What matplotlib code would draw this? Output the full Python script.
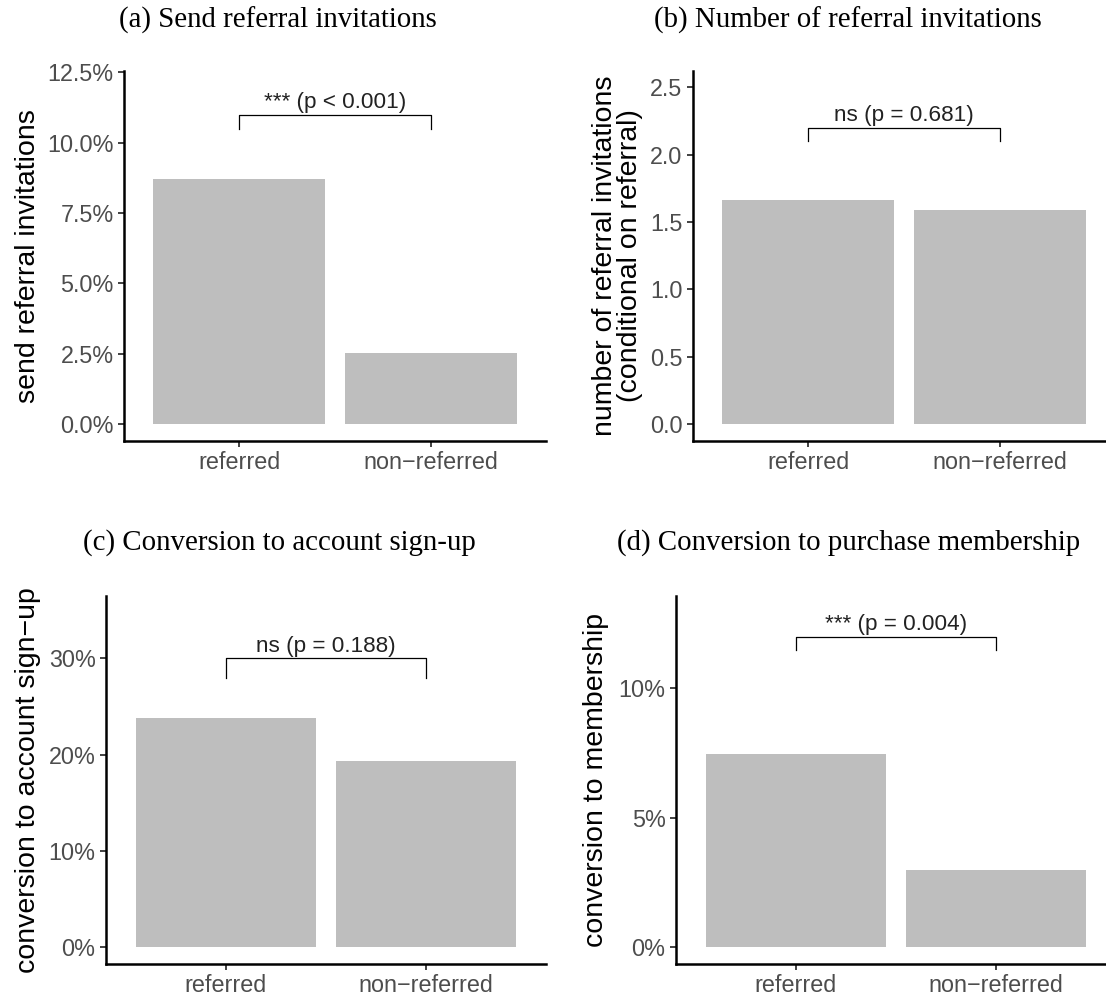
import matplotlib
matplotlib.use("Agg")
import matplotlib.pyplot as plt

# --- data ---
groups = ["referred", "non\u2212referred"]

send_rate = [8.70, 2.51]          # % sending referral invitations
invite_count = [1.665, 1.592]     # invitations, conditional on referral
signup_rate = [23.8, 19.3]        # % converting to account sign-up
member_rate = [7.48, 2.97]        # % converting to membership

titles = [
    "(a) Send referral invitations",
    "(b) Number of referral invitations",
    "(c) Conversion to account sign-up",
    "(d) Conversion to purchase membership",
]
ylabels = [
    "send referral invitations",
    "number of referral invitations\n(conditional on referral)",
    "conversion to account sign\u2212up",
    "conversion to membership",
]
sig_labels = ["*** (p < 0.001)", "ns (p = 0.681)", "ns (p = 0.188)", "*** (p = 0.004)"]
sig_y = [11.0, 2.2, 30.0, 12.0]
sig_drop = [0.5, 0.1, 2.0, 0.5]

yticks = [
    [0, 2.5, 5.0, 7.5, 10.0, 12.5],
    [0, 0.5, 1.0, 1.5, 2.0, 2.5],
    [0, 10, 20, 30],
    [0, 5, 10],
]
ytick_labels = [
    ["0.0%", "2.5%", "5.0%", "7.5%", "10.0%", "12.5%"],
    ["0.0", "0.5", "1.0", "1.5", "2.0", "2.5"],
    ["0%", "10%", "20%", "30%"],
    ["0%", "5%", "10%"],
]
ylims = [(-0.6, 12.55), (-0.125, 2.62), (-1.74, 36.48), (-0.65, 13.57)]
values = [send_rate, invite_count, signup_rate, member_rate]

W, H = 1106, 998
# panel rectangles in pixels: left, right, top, bottom
rects = [(124, 546, 71, 441), (693, 1115, 71, 441), (106, 546, 596, 964), (676, 1116, 596, 964)]
title_pos = [(278, 20), (848, 20), (279, 543), (849, 543)]
ylabel_x = [41, 643, 41, 609]   # right edge of the rotated label

BAR = "#BEBEBE"
TICK_TXT = "#4D4D4D"
SANS = "Liberation Sans"

fig = plt.figure(figsize=(W / 100, H / 100), dpi=100)

for i in range(4):
    l, r, t, b = rects[i]
    ax = fig.add_axes([l / W, 1 - b / H, (r - l) / W, (b - t) / H])
    x = [1, 2]
    ax.bar(x, values[i], width=0.9, color=BAR, zorder=2)
    ax.set_xlim(0.4, 2.6)
    ax.set_ylim(*ylims[i])
    ax.set_xticks(x)
    ax.set_xticklabels(groups, fontsize=16.8, color=TICK_TXT, family=SANS)
    ax.set_yticks(yticks[i])
    ax.set_yticklabels(ytick_labels[i], fontsize=16.8, color=TICK_TXT, family=SANS)
    for s in ["top", "right"]:
        ax.spines[s].set_visible(False)
    for s in ["left", "bottom"]:
        ax.spines[s].set_linewidth(1.8)
        ax.spines[s].set_color("black")
    ax.tick_params(axis="both", length=4.5, width=1.3, color="#333333", pad=3)

    # y label placed in pixels
    lx = (ylabel_x[i] - l) / (r - l)
    ax.set_ylabel(ylabels[i], fontsize=20.5, family=SANS, color="black", linespacing=0.95)
    ax.yaxis.set_label_coords(lx, 0.5)

    # significance bracket
    y0, d = sig_y[i], sig_drop[i]
    ax.plot([1, 1, 2, 2], [y0 - d, y0, y0, y0 - d], color="black", lw=0.9, zorder=3)
    ax.annotate(sig_labels[i], xy=(1.5, y0), xytext=(0, 1), textcoords="offset points",
                ha="center", va="bottom", fontsize=16.2, family=SANS, color="#222222")

    tx, ty = title_pos[i]
    fig.text(tx / W, 1 - ty / H, titles[i], ha="center", va="center",
             fontsize=20.8, family="Liberation Serif", color="black")

fig.savefig("out.png", dpi=100)
